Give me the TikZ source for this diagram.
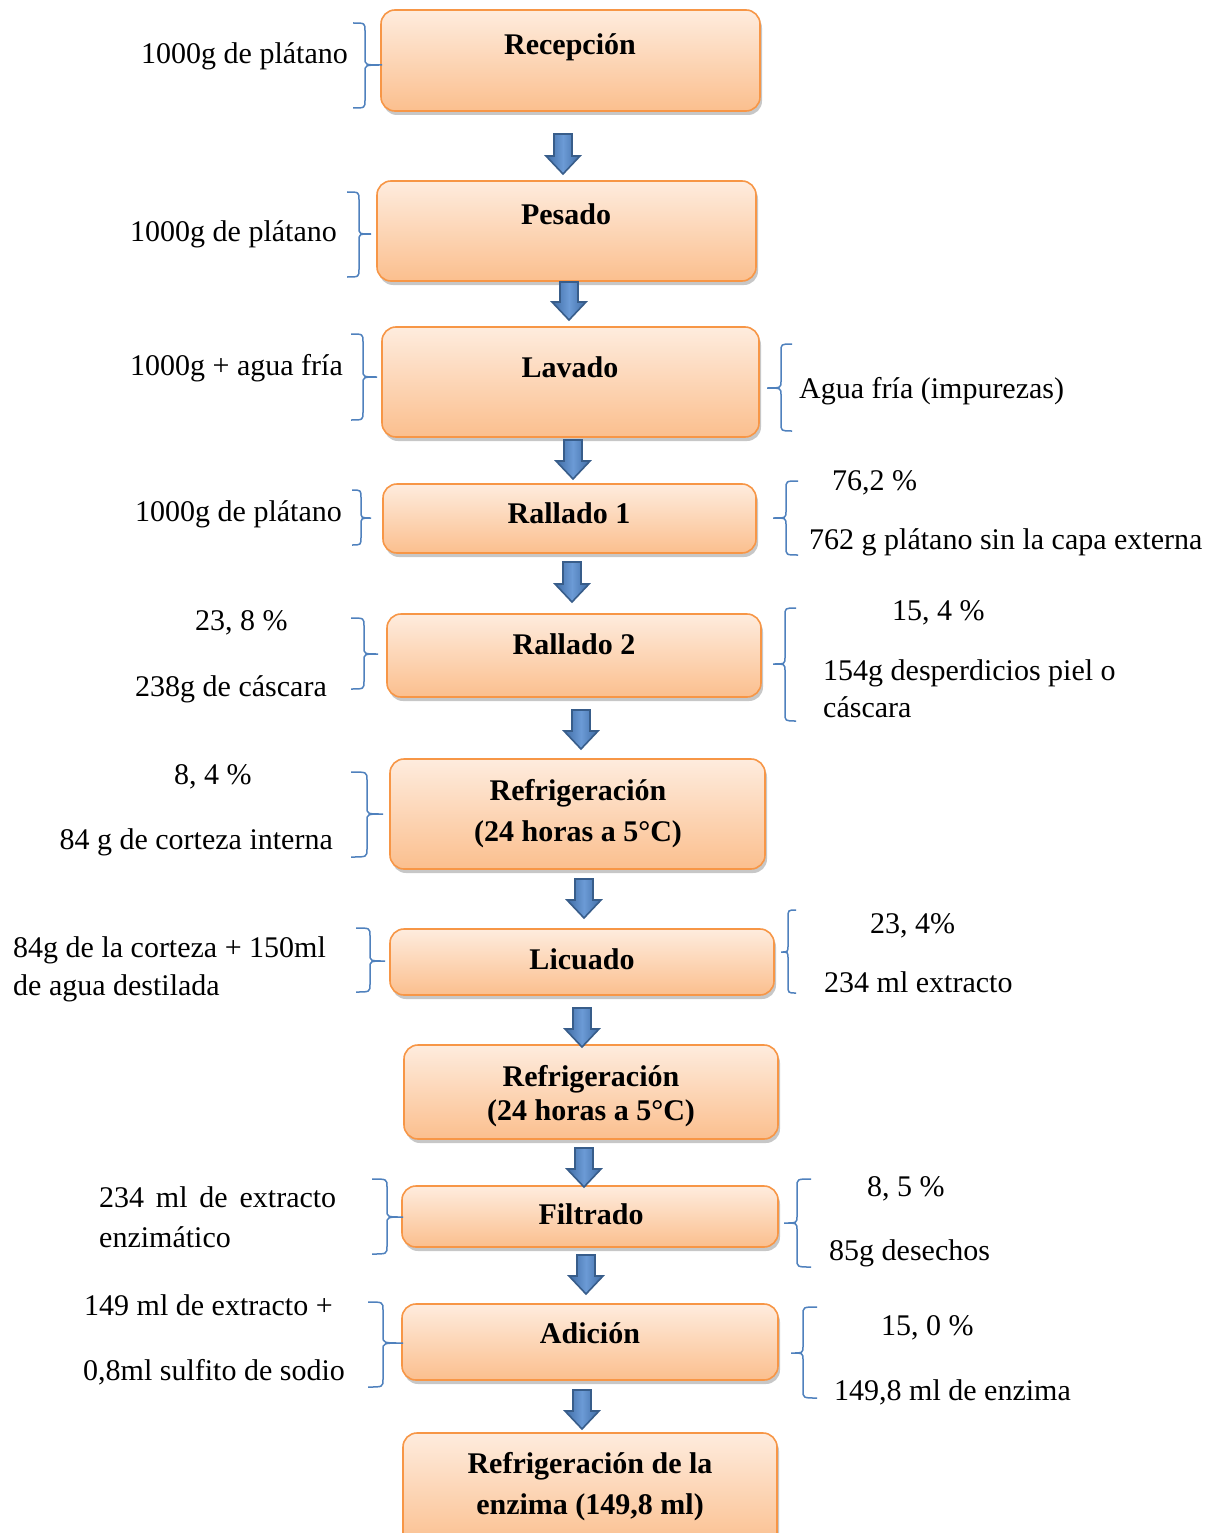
\documentclass[tikz,border=0pt]{standalone}
\usepackage{fontspec}
\setmainfont{Liberation Serif}
\usetikzlibrary{shadows}
\definecolor{boxtop}{RGB}{254,236,222}
\definecolor{boxbot}{RGB}{251,191,142}
\definecolor{boxline}{RGB}{247,150,70}
\definecolor{brcol}{RGB}{79,129,189}
\definecolor{arrline}{RGB}{56,93,138}
\definecolor{arrdark}{RGB}{63,108,165}
\definecolor{arrlight}{RGB}{108,155,214}
\tikzset{
  procbox/.style={draw=boxline, line width=1.6pt, rounded corners=14pt,
    top color=boxtop, bottom color=boxbot, inner sep=0pt, outer sep=0pt,
    drop shadow={shadow xshift=2pt, shadow yshift=-4pt, fill=black, opacity=0.22}},
  boxtxt/.style={font=\fontsize{30}{35}\selectfont\bfseries, inner sep=0pt, anchor=base},
  sidetxt/.style={font=\fontsize{30}{35}\selectfont, inner sep=0pt},
  brc/.style={draw=brcol, line width=1.5pt},
  blkarrow/.style={draw=arrline, line width=1.6pt, left color=arrdark, right color=arrdark, middle color=arrlight}
}
% box: name, x1, y1, x2, y2
\newcommand{\procnode}[5]{\node[procbox, minimum width={#4-#2}, minimum height={#5-#3}] (#1) at ({(#2+#4)/2},{(#3+#5)/2}) {};}
% brace: tick x, vertical x, tip x, top, mid, bottom
\newcommand{\bracepath}[6]{\draw[brc] (#1,#4) .. controls (#2,#4) .. (#2,#4+8) -- (#2,#5-7) .. controls (#2,#5) .. (#3,#5) .. controls (#2,#5) .. (#2,#5+7) -- (#2,#6-8) .. controls (#2,#6) .. (#1,#6);}
% block arrow: centre x, top, bottom
\newcommand{\blockdown}[3]{\path[blkarrow] (#1-9,#2) -- (#1+9,#2) -- (#1+9,#3-18) -- (#1+17,#3-18) -- (#1,#3) -- (#1-17,#3-18) -- (#1-9,#3-18) -- cycle;}
\begin{document}
\begin{tikzpicture}[x=1pt, y=-1pt]
\fill[white] (0,0) rectangle (1227,1533);
\useasboundingbox (0,0) rectangle (1227,1533);

% process boxes
\procnode{b1}{381}{10}{760}{111}
\procnode{b2}{377}{181}{756}{281}
\procnode{b3}{382}{327}{759}{437}
\procnode{b4}{383}{484}{756}{553}
\procnode{b5}{387}{614}{761}{697}
\procnode{b6}{390}{759}{765}{869}
\procnode{b7}{390}{929}{774}{995}
\procnode{b8}{404}{1045}{778}{1139}
\procnode{b9}{402}{1186}{778}{1247}
\procnode{b10}{402}{1304}{778}{1380}
\procnode{b11}{403}{1433}{777}{1548}

% box labels
\node[boxtxt] (t1) at (570,55) {Recepción};
\node[boxtxt] (t2) at (566,225) {Pesado};
\node[boxtxt] (t3) at (570,377) {Lavado};
\node[boxtxt] (t4) at (569,523) {Rallado 1};
\node[boxtxt] (t5) at (574,654) {Rallado 2};
\node[boxtxt] (t6a) at (578,800) {Refrigeración};
\node[boxtxt] (t6b) at (578,841) {(24 horas a 5°C)};
\node[boxtxt] (t7) at (582,969) {Licuado};
\node[boxtxt] (t8a) at (591,1086) {Refrigeración};
\node[boxtxt] (t8b) at (591,1120) {(24 horas a 5°C)};
\node[boxtxt] (t9) at (591,1224) {Filtrado};
\node[boxtxt] (t10) at (590,1343) {Adición};
\node[boxtxt] (t11a) at (590,1473) {Refrigeración de la};
\node[boxtxt] (t11b) at (590,1514) {enzima (149,8 ml)};

% block arrows
\blockdown{563}{134}{174}
\blockdown{569}{282}{320}
\blockdown{573}{440}{479}
\blockdown{572}{562}{602}
\blockdown{581}{710}{749}
\blockdown{584}{879}{918}
\blockdown{582}{1008}{1047}
\blockdown{584}{1148}{1187}
\blockdown{586}{1255}{1294}
\blockdown{582}{1390}{1429}

% left braces
\bracepath{353}{365}{382}{23}{65}{108}
\bracepath{347}{359}{371}{192}{234}{277}
\bracepath{351}{363}{377}{334}{377}{420}
\bracepath{352}{361}{371}{490}{518}{545}
\bracepath{351}{364}{378}{618}{654}{689}
\bracepath{351}{367}{383}{772}{814}{857}
\bracepath{356}{370}{385}{928}{961}{992}
\bracepath{372}{387}{403}{1179}{1217}{1254}
\bracepath{368}{383}{403}{1302}{1343}{1387}
% right braces
\bracepath{792}{781}{767}{344}{388}{431}
\bracepath{798}{786}{773}{481}{518}{555}
\bracepath{796}{785}{773}{608}{664}{721}
\bracepath{796}{788}{781}{910}{952}{993}
\bracepath{811}{797}{784}{1179}{1223}{1267}
\bracepath{817}{803}{791}{1307}{1353}{1398}

% left texts
\node[sidetxt, anchor=base east] (l1) at (348,64) {1000g de plátano};
\node[sidetxt, anchor=base east] (l2) at (337,241) {1000g de plátano};
\node[sidetxt, anchor=base east] (l3) at (343,375) {1000g + agua fría};
\node[sidetxt, anchor=base east] (l4) at (342,521) {1000g de plátano};
\node[sidetxt, anchor=base west] (l5a) at (195,630) {23, 8 \%};
\node[sidetxt, anchor=base east] (l5b) at (327,696) {238g de cáscara};
\node[sidetxt, anchor=base west] (l6a) at (174,784) {8, 4 \%};
\node[sidetxt, anchor=base east] (l6b) at (333,849) {84 g de corteza interna};
\node[sidetxt, anchor=base west] (l7a) at (13,957) {84g de la corteza + 150ml};
\node[sidetxt, anchor=base west] (l7b) at (13,995) {de agua destilada};
\node[sidetxt, anchor=base west] (l9a) at (99,1207) {\makebox[237pt][s]{234 ml de extracto}};
\node[sidetxt, anchor=base west] (l9b) at (99,1247) {enzimático};
\node[sidetxt, anchor=base west] (l10a) at (84,1315) {149 ml de extracto +};
\node[sidetxt, anchor=base west] (l10b) at (83,1380) {0,8ml sulfito de sodio};

% right texts
\node[sidetxt, anchor=base west] (r3) at (799,398) {Agua fría (impurezas)};
\node[sidetxt, anchor=base west] (r4a) at (832,490) {76,2 \%};
\node[sidetxt, anchor=base west] (r4b) at (809,549) {762 g plátano sin la capa externa};
\node[sidetxt, anchor=base west] (r5a) at (892,620) {15, 4 \%};
\node[sidetxt, anchor=base west] (r5b) at (823,680) {154g desperdicios piel o};
\node[sidetxt, anchor=base west] (r5c) at (823,717) {cáscara};
\node[sidetxt, anchor=base west] (r7a) at (870,933) {23, 4\%};
\node[sidetxt, anchor=base west] (r7b) at (824,992) {234 ml extracto};
\node[sidetxt, anchor=base west] (r9a) at (867,1196) {8, 5 \%};
\node[sidetxt, anchor=base west] (r9b) at (829,1260) {85g desechos};
\node[sidetxt, anchor=base west] (r10a) at (881,1335) {15, 0 \%};
\node[sidetxt, anchor=base west] (r10b) at (834,1400) {149,8 ml de enzima};
\end{tikzpicture}
\end{document}
